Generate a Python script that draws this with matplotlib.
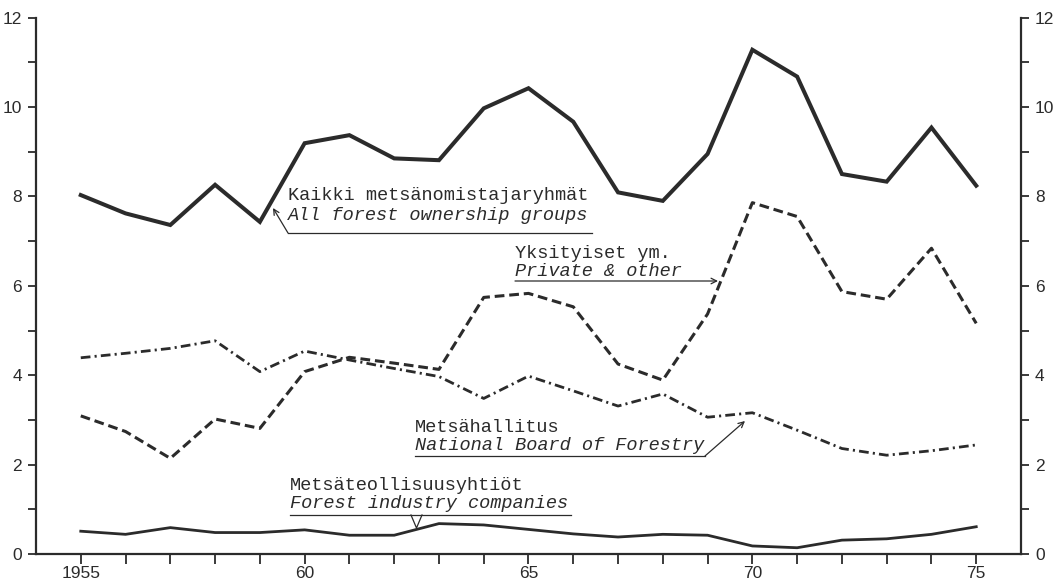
import matplotlib
matplotlib.use("Agg")
import matplotlib.pyplot as plt
from matplotlib.ticker import MultipleLocator, FixedLocator
from matplotlib.font_manager import FontProperties

years = list(range(1955, 1976))
total = [8.03, 7.62, 7.36, 8.26, 7.43, 9.19, 9.37, 8.85, 8.81, 9.97, 10.42,
         9.67, 8.09, 7.90, 8.95, 11.28, 10.68, 8.50, 8.33, 9.54, 8.24]
private = [3.09, 2.74, 2.14, 3.02, 2.81, 4.08, 4.40, 4.27, 4.13, 5.74, 5.83,
           5.53, 4.25, 3.89, 5.37, 7.86, 7.55, 5.87, 5.70, 6.84, 5.16]
state = [4.39, 4.49, 4.60, 4.77, 4.08, 4.54, 4.34, 4.15, 3.97, 3.48, 3.98,
         3.65, 3.31, 3.58, 3.06, 3.16, 2.77, 2.36, 2.21, 2.31, 2.44]
industry = [0.51, 0.44, 0.59, 0.48, 0.48, 0.54, 0.42, 0.42, 0.68, 0.65, 0.55,
            0.45, 0.38, 0.44, 0.42, 0.18, 0.14, 0.31, 0.34, 0.44, 0.61]
xtick_labels = {1955: "1955", 1960: "60", 1965: "65", 1970: "70", 1975: "75"}
yticks = [0, 2, 4, 6, 8, 10, 12]

plt.rcParams['lines.scale_dashes'] = False
INK = '#2b2b2b'
W, H = 1058, 583
fig = plt.figure(figsize=(W / 100, H / 100), dpi=100)
X0, X1, Y0, Y1 = 36, 1021, 554, 17.6
ax = fig.add_axes([X0 / W, 1 - Y0 / H, (X1 - X0) / W, (Y0 - Y1) / H])
xmin, xmax = 1954.0, 1976.0
ax.set_xlim(xmin, xmax)
ax.set_ylim(0, 12)


def P(px, py):
    return (xmin + (px - X0) / (X1 - X0) * (xmax - xmin),
            (Y0 - py) / (Y0 - Y1) * 12)


ax.plot(years, total, color=INK, lw=2.9, solid_joinstyle='miter')
ax.plot(years, private, color=INK, lw=2.2, dashes=(7, 3.5))
ax.plot(years, state, color=INK, lw=2.0, dashes=(7, 3, 1.5, 3))
ax.plot(years, industry, color=INK, lw=2.0)

ax.spines['top'].set_visible(False)
for s in ['left', 'right', 'bottom']:
    ax.spines[s].set_linewidth(1.6)
    ax.spines[s].set_color(INK)

ax.xaxis.set_major_locator(FixedLocator(years))
ax.set_xticklabels([xtick_labels.get(y, "") for y in years])
ax.set_yticks(yticks)
ax.yaxis.set_minor_locator(MultipleLocator(1))
ax.tick_params(axis='both', which='both', direction='out', color=INK, width=1.3)
ax.tick_params(axis='x', length=7, pad=2)
ax.tick_params(axis='y', which='major', length=6, pad=4, right=True, labelright=True)
ax.tick_params(axis='y', which='minor', length=6, right=True)

tfp = FontProperties(family=['Liberation Sans Narrow', 'Liberation Sans', 'DejaVu Sans'],
                     size=12.5)
for lab in ax.get_xticklabels():
    lab.set_fontproperties(tfp)
    lab.set_color(INK)
for t in ax.yaxis.get_major_ticks():
    for lab in (t.label1, t.label2):
        lab.set_fontproperties(tfp)
        lab.set_color(INK)

mono = ['Liberation Mono', 'DejaVu Sans Mono']
fs = 13.4


def label(px, py1, py2, l1, l2):
    ax.text(*P(px, py1), l1, family=mono, fontsize=fs, color=INK,
            ha='left', va='center')
    ax.text(*P(px, py2), l2, family=mono, fontsize=fs, style='italic',
            color=INK, ha='left', va='center')


thin = dict(color=INK, lw=0.9)
arrow = dict(arrowstyle='->', color=INK, lw=0.9, shrinkA=0, shrinkB=0)

# Kaikki
label(288, 195, 215, "Kaikki metsänomistajaryhmät", "All forest ownership groups")
ax.plot(*zip(P(288, 233), P(592, 233)), **thin)
ax.annotate("", xy=P(273, 208), xytext=P(288, 233), arrowprops=arrow)

# Yksityiset
label(515, 253, 271, "Yksityiset ym.", "Private & other")
ax.annotate("", xy=P(718, 281), xytext=P(515, 281), arrowprops=arrow)

# Metsähallitus
label(415, 427, 445, "Metsähallitus", "National Board of Forestry")
ax.plot(*zip(P(415, 456), P(705, 456)), **thin)
ax.annotate("", xy=P(745, 421), xytext=P(705, 456), arrowprops=arrow)

# Metsäteollisuusyhtiöt
label(290, 485, 503, "Metsäteollisuusyhtiöt", "Forest industry companies")
ax.plot(*zip(P(290, 515), P(571, 515)), **thin)
vx, vy = zip(P(411, 515), P(416.5, 528), P(422, 515))
ax.plot(vx, vy, **thin)

fig.savefig("out.png", dpi=100, facecolor='white')
